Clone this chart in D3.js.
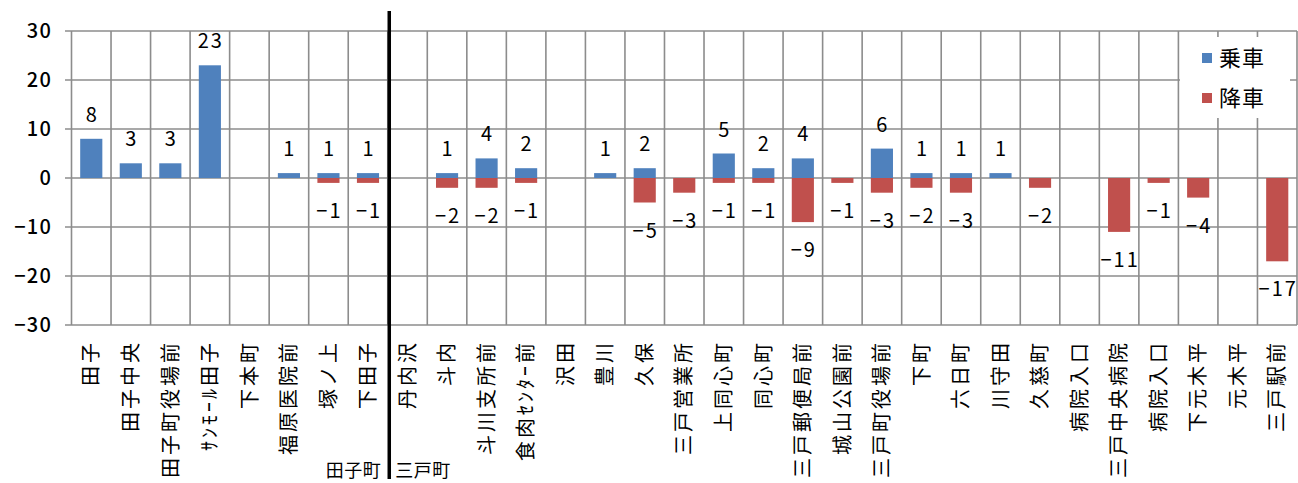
<!DOCTYPE html>
<html><head><meta charset="utf-8">
<script src="https://cdn.jsdelivr.net/npm/d3@7"></script>
<style>body{margin:0;background:#fff}svg{display:block}</style>
</head><body><svg id="c" width="1298" height="483"></svg>
<script>
const categories = ["田子","田子中央","田子町役場前","ｻﾝﾓｰﾙ田子","下本町","福原医院前","塚ノ上","下田子",
  "丹内沢","斗内","斗川支所前","食肉ｾﾝﾀｰ前","沢田","豊川","久保","三戸営業所","上同心町","同心町",
  "三戸郵便局前","城山公園前","三戸町役場前","下町","六日町","川守田","久慈町","病院入口","三戸中央病院",
  "病院入口","下元木平","元木平","三戸駅前"];
const boarding  = [8,3,3,23,0,1,1,1, 0,1,4,2,0,1,2,0,5,2,4,0,6,1,1,1,0,0,0,0,0,0,0];
const alighting = [0,0,0,0,0,0,-1,-1, 0,-2,-2,-1,0,0,-5,-3,-1,-1,-9,-1,-3,-2,-3,0,-2,0,-11,-1,-4,0,-17];
const seriesNames = ["乗車","降車"];
const seriesColors = ["#4F81BD","#C0504D"];
const yTicks = [30,20,10,0,-10,-20,-30];
const towns = ["田子町","三戸町"];
const townSplit = 8;

const svg = d3.select("#c");
const font = "'Noto Sans CJK JP','Noto Sans',sans-serif";
const L = 71.5, R = 1297, T = 31, B = 325;
const x = d3.scaleBand().domain(d3.range(categories.length)).range([L, R]).padding(0);
const y = d3.scaleLinear().domain([-30, 30]).range([B, T]);
const bw = x.bandwidth() * 0.56;
const grid = "#8c8c8c";

// horizontal grid
svg.append("g").selectAll("line").data(yTicks).join("line")
  .attr("x1", 65).attr("x2", R).attr("y1", d => y(d)).attr("y2", d => y(d))
  .attr("stroke", grid).attr("stroke-width", 1.6);
// vertical grid
svg.append("g").selectAll("line").data(d3.range(categories.length + 1)).join("line")
  .attr("x1", i => L + i * x.step()).attr("x2", i => L + i * x.step())
  .attr("y1", T).attr("y2", B).attr("stroke", grid).attr("stroke-width", 1.6);

// y labels
svg.append("g").selectAll("text").data(yTicks).join("text")
  .attr("x", 52).attr("y", d => y(d)).attr("dy", "0.36em")
  .attr("text-anchor", "end").attr("font-family", font).attr("font-size", 20)
  .attr("font-weight", 500).attr("letter-spacing", 1.2)
  .text(d => d3.format("")(d));

// bars
const series = [boarding, alighting];
series.forEach((vals, s) => {
  svg.append("g").selectAll("rect").data(vals.map((v, i) => ({v, i})).filter(d => d.v !== 0)).join("rect")
    .attr("x", d => x(d.i) + (x.bandwidth() - bw) / 2)
    .attr("width", bw)
    .attr("y", d => Math.min(y(d.v), y(0)))
    .attr("height", d => Math.abs(y(d.v) - y(0)))
    .attr("fill", seriesColors[s]);
  svg.append("g").selectAll("text").data(vals.map((v, i) => ({v, i})).filter(d => d.v !== 0)).join("text")
    .attr("x", d => x(d.i) + x.bandwidth() / 2 + 1)
    .attr("y", d => d.v > 0 ? y(d.v) - 17 : y(d.v) + 35)
    .attr("text-anchor", "middle").attr("font-family", font).attr("font-size", 20)
    .attr("letter-spacing", 2)
    .text(d => d3.format("")(d.v));
});

// category labels
svg.append("g").selectAll("text").data(categories).join("text")
  .attr("transform", (d, i) => `translate(${x(i) + x.bandwidth() / 2},340) rotate(-90)`)
  .attr("text-anchor", "end").attr("dy", "0.36em")
  .attr("font-family", font).attr("font-size", 20).attr("letter-spacing", 3)
  .text(d => d);

// divider
const dx = L + townSplit * x.step() + 1.5;
svg.append("line").attr("x1", dx).attr("x2", dx).attr("y1", 11).attr("y2", 479)
  .attr("stroke", "#000").attr("stroke-width", 3.5);
svg.append("text").attr("x", dx - 8).attr("y", 477).attr("text-anchor", "end")
  .attr("font-family", font).attr("font-size", 18).attr("letter-spacing", 0.5).text(towns[0]);
svg.append("text").attr("x", dx + 6).attr("y", 477).attr("text-anchor", "start")
  .attr("font-family", font).attr("font-size", 18).attr("letter-spacing", 0.5).text(towns[1]);

// legend
const lg = svg.append("g");
lg.append("rect").attr("x", 1180).attr("y", 37).attr("width", 110).attr("height", 81).attr("fill", "#fff");
seriesNames.forEach((n, s) => {
  lg.append("rect").attr("x", 1202).attr("y", 53 + s * 40).attr("width", 10).attr("height", 10).attr("fill", seriesColors[s]);
  lg.append("text").attr("x", 1219).attr("y", 58 + s * 40).attr("dy", "0.36em")
    .attr("font-family", font).attr("font-size", 22).attr("letter-spacing", 1).text(n);
});
</script></body></html>
